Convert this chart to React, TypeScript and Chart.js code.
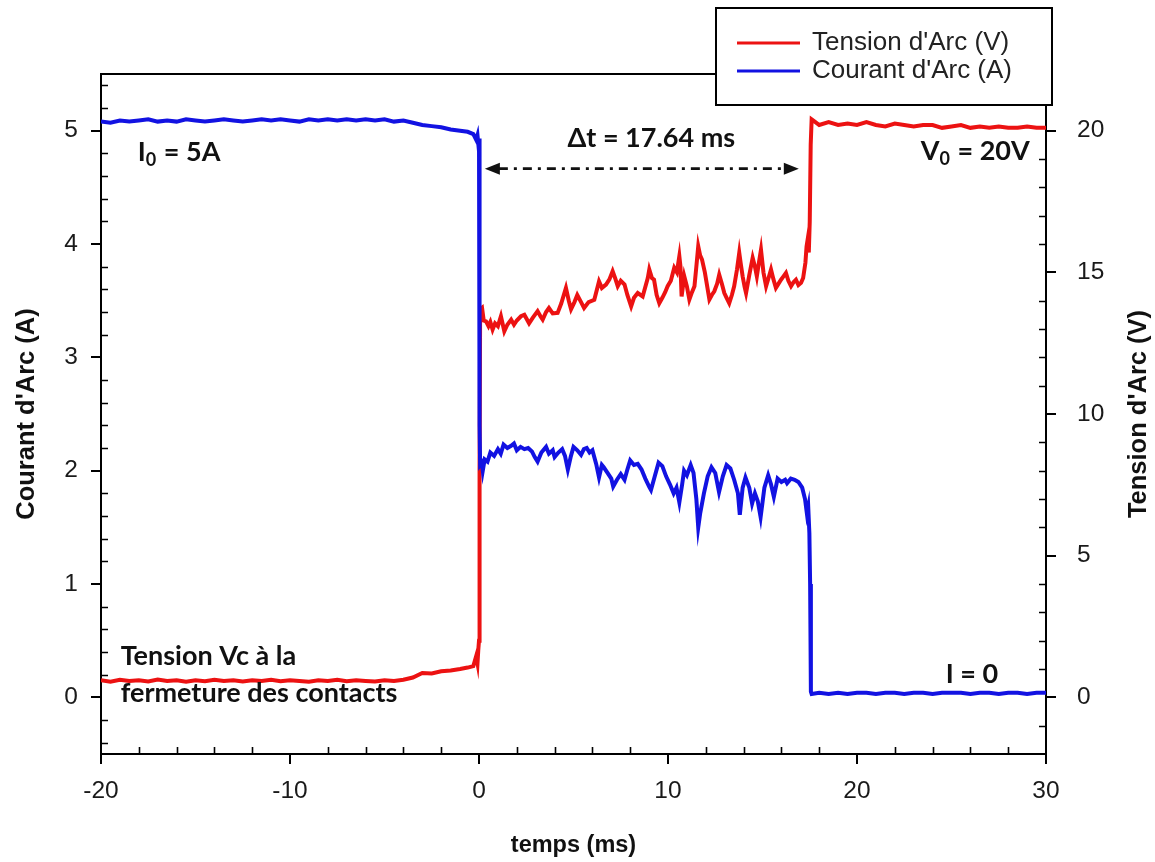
import React, { useEffect, useRef } from 'react';
import { Chart, registerables } from 'chart.js';

Chart.register(...registerables);

// ---------- data (time in ms) ----------
const currentSeries: [number, number][] = [
  [-20, 5.08], [-19.5, 5.07], [-19, 5.09], [-18.5, 5.08], [-18, 5.09], [-17.5, 5.1], [-17, 5.08], [-16.5, 5.09],
  [-16, 5.08], [-15.5, 5.1], [-15, 5.09], [-14.5, 5.08], [-14, 5.09], [-13.5, 5.1], [-13, 5.09], [-12.5, 5.08],
  [-12, 5.09], [-11.5, 5.1], [-11, 5.09], [-10.5, 5.1], [-10, 5.09], [-9.5, 5.08], [-9, 5.1], [-8.5, 5.09],
  [-8, 5.1], [-7.5, 5.09], [-7, 5.1], [-6.5, 5.09], [-6, 5.1], [-5.5, 5.09], [-5, 5.1], [-4.5, 5.08],
  [-4, 5.09], [-3.5, 5.07], [-3, 5.05], [-2.5, 5.04], [-2, 5.03], [-1.5, 5.01], [-1, 5.0], [-0.6, 4.99],
  [-0.3, 4.97], [-0.15, 4.92], [-0.08, 4.96], [-0.04, 4.89], [0, 4.93], [0.02, 3.6], [0.04, 2.4], [0.06, 2.05],
  [0.15, 2.07], [0.2, 2.0], [0.3, 2.1], [0.45, 2.08], [0.6, 2.16], [0.8, 2.13], [1.0, 2.19], [1.15, 2.15],
  [1.3, 2.23], [1.5, 2.2], [1.7, 2.22], [1.85, 2.24], [2.0, 2.18], [2.2, 2.21], [2.4, 2.19], [2.6, 2.2],
  [2.8, 2.17], [2.95, 2.12], [3.1, 2.08], [3.3, 2.16], [3.55, 2.21], [3.7, 2.15], [3.9, 2.18], [4.0, 2.12],
  [4.2, 2.16], [4.4, 2.19], [4.55, 2.13], [4.7, 2.01], [4.85, 2.12], [5.0, 2.21], [5.2, 2.18], [5.4, 2.14],
  [5.55, 2.19], [5.7, 2.2], [5.85, 2.16], [6.0, 2.18], [6.2, 2.06], [6.35, 1.94], [6.5, 2.05], [6.6, 2.03],
  [6.8, 1.98], [7.0, 1.93], [7.1, 1.86], [7.3, 1.92], [7.5, 1.97], [7.7, 1.92], [7.85, 2.01], [8.0, 2.09],
  [8.2, 2.05], [8.4, 2.06], [8.6, 2.01], [8.8, 1.93], [9.0, 1.86], [9.1, 1.83], [9.3, 1.95], [9.5, 2.07],
  [9.7, 2.04], [9.9, 1.95], [10.1, 1.88], [10.3, 1.8], [10.45, 1.85], [10.6, 1.72], [10.75, 1.88], [10.85, 2.0],
  [11.0, 1.96], [11.2, 2.05], [11.35, 1.98], [11.5, 1.75], [11.6, 1.5], [11.7, 1.62], [11.9, 1.8], [12.1, 1.95],
  [12.3, 2.03], [12.5, 1.98], [12.7, 1.81], [12.9, 1.95], [13.1, 2.05], [13.3, 2.02], [13.5, 1.92], [13.7, 1.8],
  [13.8, 1.61], [13.95, 1.85], [14.1, 1.94], [14.3, 1.85], [14.45, 1.71], [14.6, 1.8], [14.75, 1.73], [14.9, 1.59],
  [15.1, 1.85], [15.3, 1.96], [15.45, 1.88], [15.6, 1.77], [15.8, 1.93], [16.0, 1.9], [16.2, 1.92], [16.3, 1.89],
  [16.5, 1.93], [16.7, 1.92], [16.9, 1.9], [17.1, 1.85], [17.25, 1.75], [17.35, 1.62], [17.42, 1.68], [17.48, 1.45],
  [17.52, 1.0], [17.56, 0.05], [17.6, 0.03], [18, 0.04], [18.5, 0.03], [19, 0.04], [19.5, 0.03], [20, 0.04],
  [20.5, 0.04], [21, 0.03], [21.5, 0.04], [22, 0.04], [22.5, 0.03], [23, 0.04], [23.5, 0.04], [24, 0.03],
  [24.5, 0.04], [25, 0.04], [25.5, 0.04], [26, 0.03], [26.5, 0.04], [27, 0.04], [27.5, 0.03], [28, 0.04],
  [28.5, 0.04], [29, 0.03], [29.5, 0.04], [30, 0.04],
];

const voltageSeries: [number, number][] = [
  [-20, 0.6], [-19.5, 0.55], [-19, 0.62], [-18.5, 0.58], [-18, 0.6], [-17.5, 0.56], [-17, 0.63], [-16.5, 0.58],
  [-16, 0.6], [-15.5, 0.55], [-15, 0.6], [-14.5, 0.57], [-14, 0.62], [-13.5, 0.58], [-13, 0.6], [-12.5, 0.56],
  [-12, 0.6], [-11.5, 0.58], [-11, 0.62], [-10.5, 0.57], [-10, 0.6], [-9.5, 0.58], [-9, 0.55], [-8.5, 0.6],
  [-8, 0.58], [-7.5, 0.62], [-7, 0.57], [-6.5, 0.6], [-6, 0.58], [-5.5, 0.56], [-5, 0.6], [-4.5, 0.58],
  [-4, 0.62], [-3.5, 0.7], [-3, 0.86], [-2.5, 0.84], [-2, 0.92], [-1.5, 0.95], [-1, 1.0], [-0.6, 1.05],
  [-0.3, 1.1], [-0.15, 1.45], [-0.08, 1.2], [-0.04, 1.65], [0, 2.0], [0.03, 8.0], [0.06, 13.7], [0.16, 13.75],
  [0.25, 13.3], [0.37, 13.27], [0.5, 13.1], [0.6, 13.25], [0.72, 12.98], [0.85, 13.2], [1.0, 13.1], [1.16, 13.45],
  [1.34, 12.92], [1.5, 13.15], [1.7, 13.33], [1.85, 13.15], [2.0, 13.3], [2.22, 13.45], [2.4, 13.5], [2.65, 13.2],
  [2.85, 13.4], [3.1, 13.63], [3.25, 13.45], [3.37, 13.33], [3.55, 13.6], [3.7, 13.74], [3.9, 13.55], [4.16, 13.57],
  [4.35, 13.9], [4.6, 14.45], [4.75, 14.0], [4.87, 13.7], [5.05, 13.95], [5.2, 14.2], [5.4, 13.95], [5.56, 13.74],
  [5.8, 13.95], [6.1, 14.03], [6.35, 14.68], [6.5, 14.45], [6.72, 14.57], [6.9, 14.75], [7.07, 15.04], [7.2, 14.8],
  [7.34, 14.51], [7.5, 14.7], [7.7, 14.57], [7.85, 14.2], [8.05, 13.8], [8.2, 14.1], [8.4, 14.27], [8.66, 14.15],
  [8.93, 14.8], [9.01, 15.1], [9.15, 14.8], [9.26, 14.74], [9.4, 14.2], [9.54, 13.91], [9.7, 14.1], [9.85, 14.3],
  [9.98, 14.51], [10.15, 14.7], [10.33, 15.16], [10.47, 15.0], [10.6, 15.57], [10.66, 15.2], [10.72, 14.15], [10.86, 14.86],
  [11.0, 14.5], [11.13, 14.04], [11.27, 14.3], [11.4, 14.51], [11.5, 15.2], [11.6, 15.92], [11.7, 15.6], [11.8, 15.45],
  [11.95, 15.0], [12.05, 14.6], [12.19, 14.04], [12.32, 14.2], [12.45, 14.33], [12.6, 14.6], [12.71, 14.92], [12.85, 14.6],
  [12.98, 14.27], [13.1, 14.1], [13.24, 13.91], [13.38, 14.2], [13.5, 14.51], [13.65, 15.1], [13.77, 15.69], [13.85, 15.3],
  [13.95, 14.86], [14.05, 14.5], [14.13, 14.27], [14.3, 14.9], [14.48, 15.51], [14.6, 15.2], [14.7, 14.86], [14.8, 15.3],
  [14.92, 15.8], [15.05, 15.0], [15.19, 14.51], [15.32, 14.8], [15.45, 15.1], [15.58, 14.75], [15.71, 14.45], [15.85, 14.6],
  [15.98, 14.74], [16.1, 14.85], [16.24, 14.98], [16.37, 14.7], [16.51, 14.51], [16.64, 14.65], [16.77, 14.74], [16.9, 14.55],
  [17.04, 14.63], [17.15, 14.8], [17.27, 15.34], [17.33, 15.9], [17.39, 16.16], [17.45, 15.7], [17.5, 16.8], [17.55, 19.5],
  [17.6, 20.4], [17.8, 20.3], [18, 20.2], [18.5, 20.3], [19, 20.2], [19.5, 20.25], [20, 20.2], [20.5, 20.3],
  [21, 20.2], [21.5, 20.15], [22, 20.25], [22.5, 20.2], [23, 20.15], [23.5, 20.2], [24, 20.2], [24.5, 20.1],
  [25, 20.15], [25.5, 20.2], [26, 20.1], [26.5, 20.15], [27, 20.1], [27.5, 20.15], [28, 20.1], [28.5, 20.1],
  [29, 20.15], [29.5, 20.1], [30, 20.1],
];

const xTickValues = [-20, -10, 0, 10, 20, 30];
const currentTickValues = [0, 1, 2, 3, 4, 5];
const voltageTickValues = [0, 5, 10, 15, 20];
const xMinorTicks = [-18, -16, -14, -12, -8, -6, -4, -2, 2, 4, 6, 8, 12, 14, 16, 18, 22, 24, 26, 28];
const currentMinorTicks = [-0.4, -0.2, 0.2, 0.4, 0.6, 0.8, 1.2, 1.4, 1.6, 1.8, 2.2, 2.4, 2.6, 2.8, 3.2, 3.4, 3.6, 3.8, 4.2, 4.4, 4.6, 4.8, 5.2, 5.4];
const voltageMinorTicks = [-1, 1, 2, 3, 4, 6, 7, 8, 9, 11, 12, 13, 14, 16, 17, 18, 19, 21];

const seriesLabels = ["Tension d'Arc (V)", "Courant d'Arc (A)"];
const axisTitles = { x: 'temps (ms)', current: "Courant d'Arc (A)", voltage: "Tension d'Arc (V)" };

// annotations anchored in data units (time, current)
type Part = [string, boolean];
const annotationLabels: { parts: Part[]; t: number; i: number }[] = [
  { parts: [['I', false], ['0', true], [' = 5A', false]], t: -18.05, i: 4.73 },
  { parts: [['V', false], ['0', true], [' = 20V', false]], t: 23.37, i: 4.74 },
  { parts: [['Δt = 17.64 ms', false]], t: 4.68, i: 4.86 },
  { parts: [['Tension Vc à la', false]], t: -18.96, i: 0.285 },
  { parts: [['fermeture des contacts', false]], t: -18.96, i: -0.039 },
  { parts: [['I = 0', false]], t: 24.69, i: 0.124 },
];
const arrowSpan = [0.31, 16.92];
const arrowLevel = 4.665;

const RED = 'rgb(236, 18, 18)';
const BLUE = 'rgb(18, 18, 226)';
const TICK_FONT = { family: '"Liberation Sans", Arial, sans-serif', size: 24.5 };
const TITLE_FONT_X = { family: '"Liberation Sans", Arial, sans-serif', size: 23.5, weight: 'bold' as const };
const TITLE_FONT_Y = { family: '"Liberation Sans", Arial, sans-serif', size: 25.5, weight: 'bold' as const };

const decorations = {
  id: 'decorations',
  afterDraw(chart: any) {
    const { ctx, chartArea: a, scales } = chart;
    const sx = scales.x;
    const sI = scales.yI;
    const sV = scales.yV;
    ctx.save();
    // top frame
    ctx.strokeStyle = '#000';
    ctx.lineWidth = 2;
    ctx.beginPath();
    ctx.moveTo(a.left - 1, a.top);
    ctx.lineTo(a.right + 1, a.top);
    ctx.stroke();
    // minor ticks (inside)
    ctx.lineWidth = 1.6;
    ctx.beginPath();
    xMinorTicks.forEach((v) => {
      const p = Math.round(sx.getPixelForValue(v)) + 0.5;
      ctx.moveTo(p, a.bottom);
      ctx.lineTo(p, a.bottom - 7);
    });
    currentMinorTicks.forEach((v) => {
      const p = Math.round(sI.getPixelForValue(v)) + 0.5;
      ctx.moveTo(a.left, p);
      ctx.lineTo(a.left + 7, p);
    });
    voltageMinorTicks.forEach((v) => {
      const p = Math.round(sV.getPixelForValue(v)) + 0.5;
      ctx.moveTo(a.right, p);
      ctx.lineTo(a.right - 7, p);
    });
    ctx.stroke();

    // right axis title (reads bottom to top)
    ctx.save();
    ctx.translate(a.right + 93, (a.top + a.bottom) / 2);
    ctx.rotate(-Math.PI / 2);
    ctx.font = 'bold 25.5px "Liberation Sans", Arial, sans-serif';
    ctx.textAlign = 'center';
    ctx.textBaseline = 'middle';
    ctx.fillStyle = '#111';
    ctx.fillText(axisTitles.voltage, 0, 0);
    ctx.restore();

    // annotations
    ctx.fillStyle = '#111';
    ctx.textBaseline = 'alphabetic';
    ctx.textAlign = 'left';
    annotationLabels.forEach((lab) => {
      let x = sx.getPixelForValue(lab.t);
      const y = sI.getPixelForValue(lab.i);
      lab.parts.forEach(([txt, sub]) => {
        ctx.font = sub ? 'bold 18px Lato, sans-serif' : 'bold 27px Lato, sans-serif';
        ctx.fillText(txt, x, sub ? y + 5 : y);
        x += ctx.measureText(txt).width + (sub ? 1 : 0);
      });
    });

    // double arrow (dash-dot)
    const x1 = sx.getPixelForValue(arrowSpan[0]);
    const x2 = sx.getPixelForValue(arrowSpan[1]);
    const ya = sI.getPixelForValue(arrowLevel);
    ctx.strokeStyle = '#111';
    ctx.lineWidth = 2.6;
    ctx.setLineDash([9, 6, 3, 6]);
    ctx.beginPath();
    ctx.moveTo(x1 + 14, ya);
    ctx.lineTo(x2 - 14, ya);
    ctx.stroke();
    ctx.setLineDash([]);
    ctx.fillStyle = '#111';
    ctx.beginPath();
    ctx.moveTo(x1, ya);
    ctx.lineTo(x1 + 15, ya - 6);
    ctx.lineTo(x1 + 15, ya + 6);
    ctx.closePath();
    ctx.fill();
    ctx.beginPath();
    ctx.moveTo(x2, ya);
    ctx.lineTo(x2 - 15, ya - 6);
    ctx.lineTo(x2 - 15, ya + 6);
    ctx.closePath();
    ctx.fill();

    // legend box
    ctx.fillStyle = '#fff';
    ctx.fillRect(716, 8, 336, 97);
    ctx.strokeStyle = '#000';
    ctx.lineWidth = 2;
    ctx.strokeRect(716, 8, 336, 97);
    const legendColors = [RED, BLUE];
    const legendY = [43, 71];
    ctx.font = '26px "Liberation Sans", Arial, sans-serif';
    ctx.textBaseline = 'middle';
    seriesLabels.forEach((lab, k) => {
      ctx.strokeStyle = legendColors[k];
      ctx.lineWidth = 3;
      ctx.beginPath();
      ctx.moveTo(737, legendY[k]);
      ctx.lineTo(800, legendY[k]);
      ctx.stroke();
      ctx.fillStyle = '#222';
      ctx.fillText(lab, 812, legendY[k]);
    });
    ctx.restore();
  },
};

export default function App() {
  const ref = useRef<HTMLCanvasElement | null>(null);
  useEffect(() => {
    document.body.style.margin = '0';
    const canvas = ref.current;
    if (!canvas) return;
    const chart = new Chart(canvas, {
      type: 'line',
      data: {
        datasets: [
          {
            label: seriesLabels[0],
            data: voltageSeries.map(([t, v]) => ({ x: t, y: v })),
            yAxisID: 'yV',
            borderColor: RED,
            backgroundColor: RED,
            borderWidth: 4,
            pointRadius: 0,
            tension: 0,
            fill: false,
            order: 2,
          },
          {
            label: seriesLabels[1],
            data: currentSeries.map(([t, c]) => ({ x: t, y: c })),
            yAxisID: 'yI',
            borderColor: BLUE,
            backgroundColor: BLUE,
            borderWidth: 4,
            pointRadius: 0,
            tension: 0,
            fill: false,
            order: 1,
          },
        ],
      },
      options: {
        responsive: false,
        animation: false,
        events: [],
        layout: { padding: { top: 74, left: 0, right: 0, bottom: 0 } },
        plugins: { legend: { display: false }, tooltip: { enabled: false } },
        scales: {
          x: {
            type: 'linear',
            position: 'bottom',
            min: -20,
            max: 30,
            afterBuildTicks: (s: any) => { s.ticks = xTickValues.map((v) => ({ value: v })); },
            afterFit: (s: any) => { s.height = 108; },
            grid: { display: true, drawOnChartArea: false, drawTicks: true, tickLength: 10, color: '#000', lineWidth: 2 },
            border: { display: true, color: '#000', width: 2 },
            ticks: { font: TICK_FONT, color: '#1a1a1a', padding: 13, maxRotation: 0 },
            title: { display: true, text: axisTitles.x, font: TITLE_FONT_X, color: '#111', padding: { top: 0, bottom: 2 } },
          },
          yI: {
            type: 'linear',
            position: 'left',
            min: -0.5,
            max: 5.5,
            afterBuildTicks: (s: any) => { s.ticks = currentTickValues.map((v) => ({ value: v })); },
            afterFit: (s: any) => { s.width = 101; },
            grid: { display: true, drawOnChartArea: false, drawTicks: true, tickLength: 10, color: '#000', lineWidth: 2 },
            border: { display: true, color: '#000', width: 2 },
            ticks: { font: TICK_FONT, color: '#1a1a1a', padding: 13 },
            title: { display: true, text: axisTitles.current, font: TITLE_FONT_Y, color: '#111', padding: { top: 12, bottom: 0 } },
          },
          yV: {
            type: 'linear',
            position: 'right',
            min: -2,
            max: 22,
            afterBuildTicks: (s: any) => { s.ticks = voltageTickValues.map((v) => ({ value: v })); },
            afterFit: (s: any) => { s.width = 109; },
            grid: { display: true, drawOnChartArea: false, drawTicks: true, tickLength: 10, color: '#000', lineWidth: 2 },
            border: { display: true, color: '#000', width: 2 },
            ticks: { font: TICK_FONT, color: '#1a1a1a', padding: 21 },
          },
        },
      },
      plugins: [decorations],
    } as any);
    return () => chart.destroy();
  }, []);
  return (
    <div style={{ width: 1155, height: 862 }}>
      <canvas ref={ref} width={1155} height={862} style={{ display: 'block' }} />
    </div>
  );
}
